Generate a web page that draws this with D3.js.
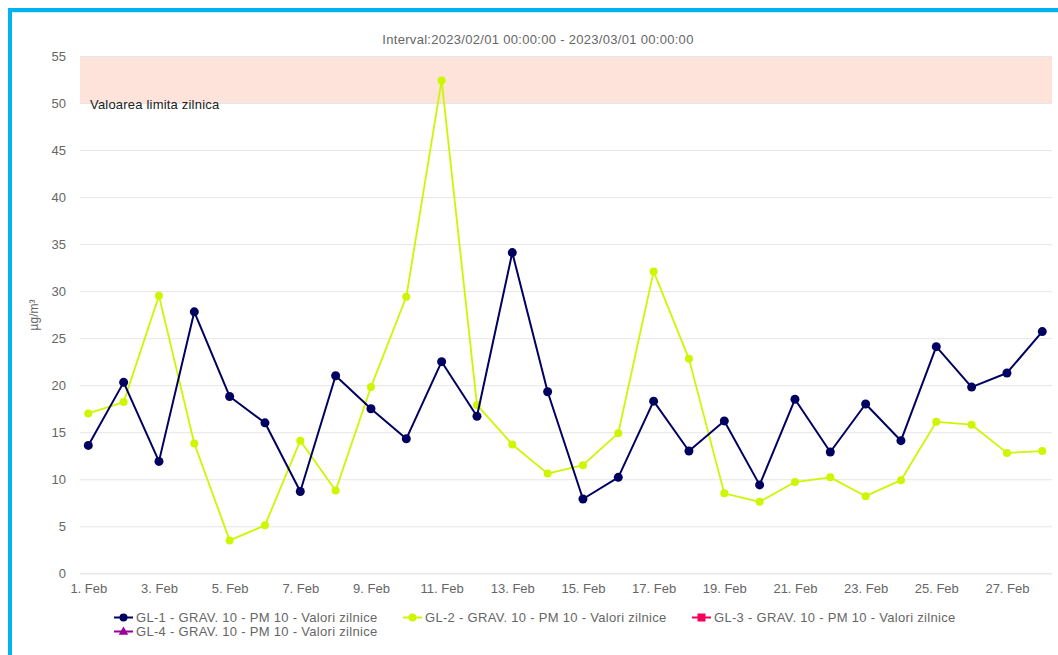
<!DOCTYPE html>
<html>
<head>
<meta charset="utf-8">
<script src="https://cdn.jsdelivr.net/npm/d3@7"></script>
<style>
  body { margin: 0; background: #fff; }
  svg { display: block; font-family: Arial, "Liberation Sans", sans-serif; }
</style>
</head>
<body>
<div id="chart"></div>
<script>
// Days of February 2023
const days = d3.range(1, 29);
const gl1 = [13.6, 20.3, 11.9, 27.8, 18.8, 16.0, 8.7, 21.0, 17.5, 14.3, 22.5, 16.7, 34.1, 19.3,
             7.9, 10.2, 18.3, 13.0, 16.2, 9.4, 18.5, 12.9, 18.0, 14.1, 24.1, 19.8, 21.3, 25.7];
const gl2 = [17.0, 18.2, 29.5, 13.8, 3.5, 5.1, 14.1, 8.8, 19.8, 29.4, 52.4, 17.9, 13.7, 10.6,
             11.5, 14.9, 32.1, 22.8, 8.5, 7.6, 9.7, 10.2, 8.2, 9.9, 16.1, 15.8, 12.8, 13.0];
const yTicks = d3.range(0, 56, 5);
const xTickDays = d3.range(1, 28, 2);
const limitBand = [50, 55];
const legendItems = [
  { name: "GL-1 - GRAV. 10 - PM 10 - Valori zilnice", color: "#000060", symbol: "circle" },
  { name: "GL-2 - GRAV. 10 - PM 10 - Valori zilnice", color: "#cdf700", symbol: "circle" },
  { name: "GL-3 - GRAV. 10 - PM 10 - Valori zilnice", color: "#f5005a", symbol: "square" },
  { name: "GL-4 - GRAV. 10 - PM 10 - Valori zilnice", color: "#990099", symbol: "triangle" }
];

const W = 1058, H = 655;
const plot = { left: 80, right: 1052, top: 56, bottom: 573.3 };
const date = d => new Date(Date.UTC(2023, 1, d));

const svg = d3.select("#chart").append("svg").attr("width", W).attr("height", H);

// outer frame (blue)
svg.append("rect").attr("x", 8).attr("y", 8).attr("width", W - 8).attr("height", 4).attr("fill", "#00b2f0");
svg.append("rect").attr("x", 8).attr("y", 8).attr("width", 4).attr("height", H - 8).attr("fill", "#00b2f0");
svg.append("rect").attr("x", 12).attr("y", 12).attr("width", W - 12).attr("height", 1).attr("fill", "#cdeefa");

const dayMs = 864e5;
const x = d3.scaleUtc()
  .domain([new Date(date(1) - 0.235 * dayMs), new Date(+date(28) + 0.275 * dayMs)])
  .range([plot.left, plot.right]);
const y = d3.scaleLinear().domain([0, 55]).range([plot.bottom, plot.top]);

// plot band
svg.append("rect")
  .attr("x", plot.left).attr("width", plot.right - plot.left)
  .attr("y", y(limitBand[1])).attr("height", y(limitBand[0]) - y(limitBand[1]))
  .attr("fill", "#fde3d9");

// gridlines + y labels
const yAxis = svg.append("g")
  .attr("transform", `translate(${plot.left},0)`)
  .call(d3.axisLeft(y).tickValues(yTicks).tickSize(-(plot.right - plot.left)).tickPadding(14));
yAxis.select(".domain").remove();
yAxis.selectAll(".tick line").attr("stroke", "#e6e6e6");
yAxis.selectAll(".tick text").attr("fill", "#666").style("font-size", "13px").attr("dy", "0.34em");

svg.append("text")
  .attr("x", plot.left + 10).attr("y", y(limitBand[0]) + 6)
  .attr("fill", "#222").style("font-size", "13px").style("letter-spacing", "0.2px")
  .text("Valoarea limita zilnica");

// x axis
const xAxis = svg.append("g")
  .attr("transform", `translate(0,${plot.bottom})`)
  .call(d3.axisBottom(x).tickValues(xTickDays.map(date)).tickFormat(d3.utcFormat("%-d. %b")).tickSize(0).tickPadding(10));
xAxis.select(".domain").attr("stroke", "#e6e6e6");
xAxis.selectAll(".tick text").attr("fill", "#666").style("font-size", "13px");

// title
svg.append("text")
  .attr("x", 538).attr("y", 44).attr("text-anchor", "middle")
  .attr("fill", "#666").style("font-size", "13px").style("letter-spacing", "0.3px")
  .text("Interval:2023/02/01 00:00:00 - 2023/03/01 00:00:00");

// y axis title
svg.append("text")
  .attr("transform", "translate(38,315) rotate(-90)")
  .attr("text-anchor", "middle").attr("fill", "#666").style("font-size", "12px")
  .text("µg/m³");

const line = d3.line().x((d, i) => x(date(days[i]))).y(d => y(d));

function drawSeries(values, color, width, r) {
  svg.append("path").datum(values)
    .attr("d", line).attr("fill", "none")
    .attr("stroke", color).attr("stroke-width", width).attr("stroke-linejoin", "round");
  svg.append("g").selectAll("circle").data(values).join("circle")
    .attr("cx", (d, i) => x(date(days[i]))).attr("cy", d => y(d))
    .attr("r", r).attr("fill", color);
}
drawSeries(gl2, legendItems[1].color, 1.8, 4);
drawSeries(gl1, legendItems[0].color, 2, 4.5);

// legend
const legendPos = [[114, 617.5], [403, 617.5], [692, 617.5], [114, 631.5]];
legendItems.forEach((it, i) => {
  const [lx, ly] = legendPos[i];
  const g = svg.append("g").attr("transform", `translate(${lx},${ly})`);
  g.append("line").attr("x1", 0).attr("x2", 19).attr("y1", 0).attr("y2", 0)
    .attr("stroke", it.color).attr("stroke-width", 2);
  if (it.symbol === "circle") {
    g.append("circle").attr("cx", 9.5).attr("cy", 0).attr("r", 4).attr("fill", it.color);
  } else if (it.symbol === "square") {
    g.append("rect").attr("x", 5.5).attr("y", -4).attr("width", 8).attr("height", 8).attr("fill", it.color);
  } else {
    g.append("path").attr("d", d3.symbol(d3.symbolTriangle, 40)()).attr("transform", "translate(9.5,0.5)").attr("fill", it.color);
  }
  g.append("text").attr("x", 22).attr("y", 0).attr("dy", "0.35em")
    .attr("fill", "#666").style("font-size", "13px").style("letter-spacing", "0.3px")
    .text(it.name);
});
</script>
</body>
</html>
